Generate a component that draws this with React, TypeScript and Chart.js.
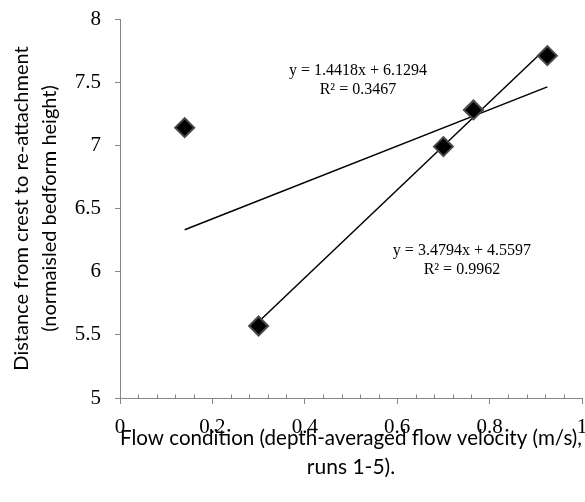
import React, { useEffect, useRef } from "react";
import { Chart, registerables } from "chart.js";

Chart.register(...registerables);

const flowVelocity = [0.14, 0.3, 0.7, 0.765, 0.925];
const reattachDistance = [7.14, 5.57, 6.99, 7.28, 7.71];

// Trendline 1: all runs; Trendline 2: runs 2-5
const trendSlopes = [1.4418, 3.4794];
const trendIntercepts = [6.1294, 4.5597];
const trendXStart = [0.14, 0.3];
const trendXEnd = [0.925, 0.925];
const trendLabels = [
  ["y = 1.4418x + 6.1294", "R² = 0.3467"],
  ["y = 3.4794x + 4.5597", "R² = 0.9962"],
];
const trendLabelX = [0.515, 0.74];
const trendLabelY = [7.59, 6.165];

const xTitle = ["Flow condition (depth-averaged flow velocity (m/s),", "runs 1-5)."];
const yTitle = ["Distance from crest to re-attachment", "(normaisled bedform height)"];

const AXIS_GRAY = "#868686";
const SERIF = "'Liberation Serif', 'Times New Roman', serif";
const SANS = "Lato, Carlito, Calibri, sans-serif";

const fmt = (v: any) => String(Math.round(Number(v) * 100) / 100);
const noPadding = () => ({ left: 0, top: 0, right: 0, bottom: 0 });

const extrasPlugin = {
  id: "extras",
  afterDraw(chart: any) {
    const { ctx, scales } = chart;
    const xs = scales.x;
    const ys = scales.y;
    ctx.save();
    // minor ticks on x axis (inside)
    ctx.strokeStyle = AXIS_GRAY;
    ctx.lineWidth = 1;
    const yBase = Math.round(ys.getPixelForValue(5)) + 0.5;
    for (let i = 1; i < 25; i++) {
      if (i % 5 === 0) continue;
      const px = Math.round(xs.getPixelForValue(i * 0.04)) + 0.5;
      ctx.beginPath();
      ctx.moveTo(px, yBase);
      ctx.lineTo(px, yBase - 4);
      ctx.stroke();
    }
    // trendline equations
    ctx.fillStyle = "#000";
    ctx.font = `16px ${SERIF}`;
    ctx.textAlign = "center";
    ctx.textBaseline = "middle";
    trendLabels.forEach((lines, k) => {
      const cx = xs.getPixelForValue(trendLabelX[k]);
      const cy = ys.getPixelForValue(trendLabelY[k]);
      lines.forEach((t, j) => ctx.fillText(t, cx, cy + j * 19));
    });
    ctx.restore();
  },
};

export default function App() {
  const ref = useRef<HTMLCanvasElement | null>(null);
  useEffect(() => {
    document.body.style.margin = "0";
    const canvas = ref.current;
    if (!canvas) return;
    const trendSets = trendSlopes.map((m, k) => ({
      type: "line" as const,
      data: [
        { x: trendXStart[k], y: m * trendXStart[k] + trendIntercepts[k] },
        { x: trendXEnd[k], y: m * trendXEnd[k] + trendIntercepts[k] },
      ],
      borderColor: "#000",
      borderWidth: 1.5,
      pointRadius: 0,
      fill: false,
      order: 2,
    }));
    const chart = new Chart(canvas, {
      type: "scatter",
      data: {
        datasets: [
          {
            type: "scatter",
            data: flowVelocity.map((x, i) => ({ x, y: reattachDistance[i] })),
            pointStyle: "rectRot",
            pointRadius: 9.5,
            backgroundColor: "#000",
            borderColor: "#4a4a4a",
            borderWidth: 2,
            order: 1,
          } as any,
          ...trendSets,
        ],
      },
      options: {
        animation: false,
        responsive: false,
        events: [],
        layout: { autoPadding: false, padding: { top: 19, right: 3, left: 0, bottom: 0 } },
        plugins: { legend: { display: false }, tooltip: { enabled: false } },
        scales: {
          x: {
            type: "linear",
            min: 0,
            max: 1,
            afterFit: (s: any) => {
              s.height = 104;
              s.paddingLeft = 0;
              s.paddingRight = 0;
              s.getPadding = noPadding;
            },
            ticks: {
              stepSize: 0.2,
              color: "#000",
              font: { family: SERIF, size: 21 },
              padding: 11,
              callback: fmt,
            },
            grid: { drawOnChartArea: false, tickLength: 6, color: AXIS_GRAY },
            border: { color: AXIS_GRAY, width: 1 },
            title: {
              display: true,
              text: xTitle,
              color: "#000",
              font: { family: SANS, size: 21, lineHeight: 1.4 },
              padding: { top: 0, bottom: 20 },
            },
          },
          y: {
            type: "linear",
            min: 5,
            max: 8,
            afterFit: (s: any) => {
              s.width = 120;
              s.paddingTop = 0;
              s.paddingBottom = 0;
              s.getPadding = noPadding;
            },
            ticks: {
              stepSize: 0.5,
              color: "#000",
              font: { family: SERIF, size: 21 },
              padding: 14,
              callback: fmt,
            },
            grid: { drawOnChartArea: false, tickLength: 5, color: AXIS_GRAY },
            border: { color: AXIS_GRAY, width: 1 },
            title: {
              display: true,
              text: yTitle,
              color: "#000",
              font: { family: SANS, size: 20, lineHeight: 1.4 },
              padding: { top: 8, bottom: 0 },
            },
          },
        },
      },
      plugins: [extrasPlugin],
    } as any);
    return () => chart.destroy();
  }, []);
  return (
    <div style={{ width: 585, height: 502 }}>
      <canvas ref={ref} width={585} height={502} style={{ display: "block" }} />
    </div>
  );
}
